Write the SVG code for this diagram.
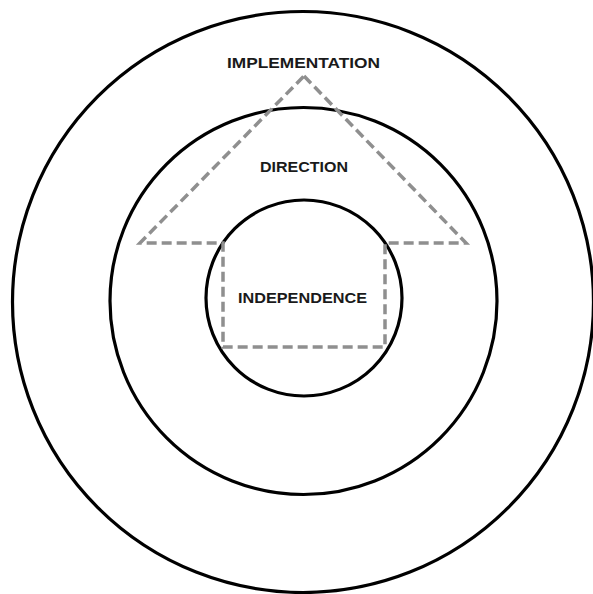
<svg xmlns="http://www.w3.org/2000/svg" width="593" height="594" viewBox="0 0 593 594">
<style>
.ring{fill:none;stroke:#000;stroke-width:3.2}
.dash{fill:none;stroke:#8f8f8f;stroke-width:3.5;stroke-dasharray:10 5}
.lbl{font-family:"Liberation Sans",Arial,sans-serif;font-weight:bold;font-size:15.5px;fill:#1a1a1a;text-anchor:middle}
</style>
<rect width="593" height="594" fill="#fff"/>
<g id="outer-ring"><circle class="ring" cx="303" cy="302" r="290.5"/></g>
<g id="middle-ring"><circle class="ring" cx="303.5" cy="301" r="193.5"/></g>
<g id="inner-ring"><circle class="ring" cx="304" cy="298" r="98"/></g>
<g id="connectors">
<path class="dash" d="M304,76 L466,243 L385,243 L385,347 L223,347 L223,243 L140,243 Z"/>
</g>
<g id="implementation"><text class="lbl" x="303.5" y="68" textLength="153" lengthAdjust="spacingAndGlyphs">IMPLEMENTATION</text></g>
<g id="direction"><text class="lbl" x="304" y="172" textLength="88" lengthAdjust="spacingAndGlyphs">DIRECTION</text></g>
<g id="independence"><text class="lbl" x="302.5" y="303" textLength="129" lengthAdjust="spacingAndGlyphs">INDEPENDENCE</text></g>
</svg>
